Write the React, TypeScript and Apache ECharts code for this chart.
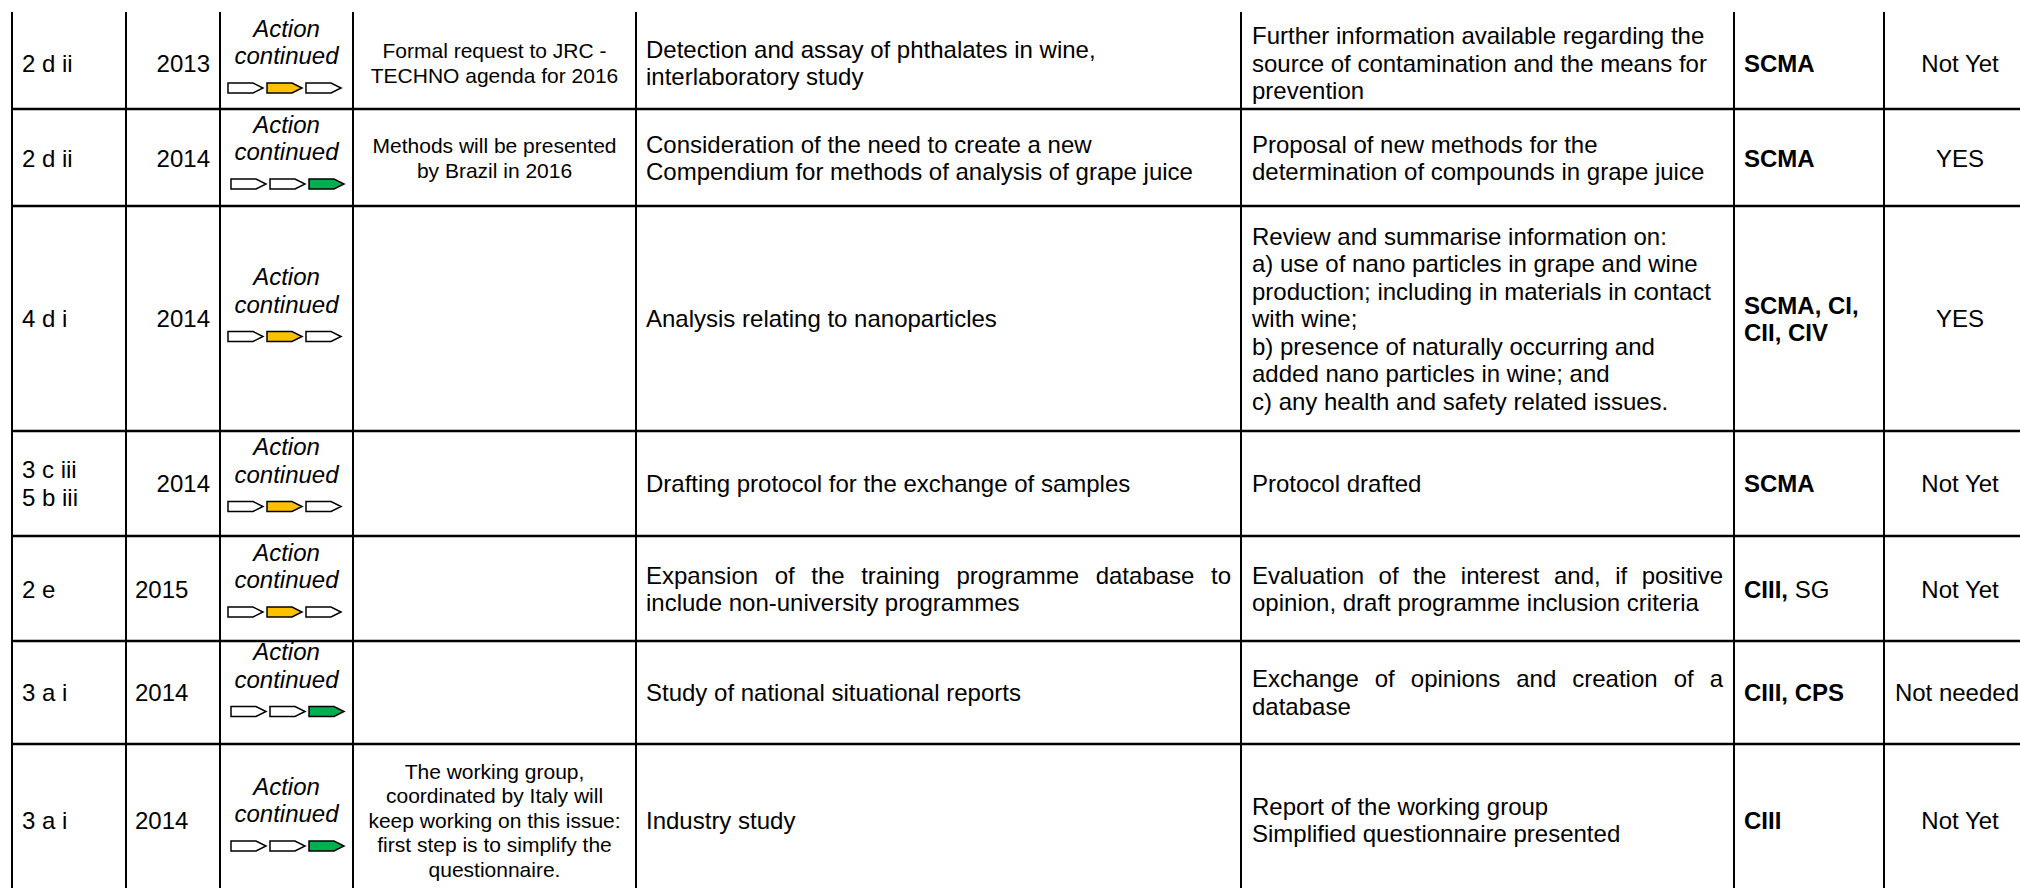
import React, { useEffect, useRef } from "react";
import * as echarts from "echarts";

// ---------- table content ----------
const codes: string[][] = [["2 d ii"], ["2 d ii"], ["4 d i"], ["3 c iii", "5 b iii"], ["2 e"], ["3 a i"], ["3 a i"]];
const years: string[] = ["2013", "2014", "2014", "2014", "2015", "2014", "2014"];
const yearAlignRight: boolean[] = [true, true, true, true, false, false, false];
const statusLines: string[] = ["Action", "continued"];
// index of the coloured step arrow (1 = middle / in progress, 2 = last / done)
const progressStep: number[] = [1, 2, 1, 1, 1, 2, 2];
const comments: string[][] = [
  ["Formal request to JRC -", "TECHNO agenda for 2016"],
  ["Methods will be presented", "by Brazil in 2016"],
  [],
  [],
  [],
  [],
  ["The working group,", "coordinated by Italy will", "keep working on this issue:", "first step is to simplify the", "questionnaire."],
];
const actions: string[][] = [
  ["Detection and assay of phthalates in wine,", "interlaboratory study"],
  ["Consideration of the need to create a new", "Compendium for methods of analysis of grape juice"],
  ["Analysis relating to nanoparticles"],
  ["Drafting protocol for the exchange of samples"],
  ["Expansion of the training programme database to", "include non-university programmes"],
  ["Study of national situational reports"],
  ["Industry study"],
];
const actionsJustified: boolean[] = [false, false, false, false, true, false, false];
const outcomes: string[][] = [
  ["Further information available regarding the", "source of contamination and the means for", "prevention"],
  ["Proposal of new methods for the", "determination of compounds in grape juice"],
  [
    "Review and summarise information on:",
    "a) use of nano particles in grape and wine",
    "production; including in materials in contact",
    "with wine;",
    "b) presence of naturally occurring and",
    "added nano particles in wine; and",
    "c) any health and safety related issues.",
  ],
  ["Protocol drafted"],
  ["Evaluation of the interest and, if positive", "opinion, draft programme inclusion criteria"],
  ["Exchange of opinions and creation of a", "database"],
  ["Report of the working group", "Simplified questionnaire presented"],
];
const outcomesJustified: boolean[] = [false, false, false, false, true, true, false];
// bodies: [bold part, regular part]
const bodies: [string, string][][] = [
  [["SCMA", ""]],
  [["SCMA", ""]],
  [["SCMA, CI,", ""], ["CII, CIV", ""]],
  [["SCMA", ""]],
  [["CIII,", "SG"]],
  [["CIII, CPS", ""]],
  [["CIII", ""]],
];
const adopted: string[] = ["Not Yet", "YES", "YES", "Not Yet", "Not Yet", "Not needed", "Not Yet"];

// ---------- layout ----------
const W = 2020;
const H = 888;
const colX = [12, 126, 220, 353, 636, 1241, 1734, 1884];
const rowLineY = [109, 206, 431, 536, 641, 744];
const tableTop = 12;
const rowCenter = [63, 158, 318.5, 483.5, 589, 692.5, 820];
const statusShift = [1, 2, -6, -1, -1, -5, 2];
const arrowStartX = [228, 231, 228, 228, 228, 231, 231];
const FAMILY = '"Liberation Sans", Arial, Helvetica, sans-serif';
const FS = 24;
const LH = 27.5;
const FS_C = 21;
const LH_C = 24.5;
const STEP_FILL = ["#ffffff", "#FFC000", "#00B050"];
const ADOPTED_CENTER = 1960;

let measureCtx: CanvasRenderingContext2D | null = null;
function measure(text: string, font: string): number {
  if (!measureCtx) measureCtx = document.createElement("canvas").getContext("2d");
  measureCtx!.font = font;
  return measureCtx!.measureText(text).width;
}

function textEl(x: number, y: number, text: string, font: string, align: string = "left") {
  return {
    type: "text",
    x,
    y,
    silent: true,
    style: {
      text,
      font,
      fill: "#000000",
      textAlign: align,
      textVerticalAlign: "middle",
      align,
      verticalAlign: "middle",
    },
  };
}

function buildElements() {
  const els: any[] = [];
  const fNorm = `${FS}px ${FAMILY}`;
  const fItal = `italic ${FS}px ${FAMILY}`;
  const fBold = `bold ${FS}px ${FAMILY}`;
  const fSmall = `${FS_C}px ${FAMILY}`;

  // grid lines
  colX.forEach((x) => {
    els.push({ type: "line", silent: true, shape: { x1: x, y1: tableTop, x2: x, y2: H }, style: { stroke: "#000", lineWidth: 2 } });
  });
  rowLineY.forEach((y) => {
    els.push({ type: "line", silent: true, shape: { x1: colX[0] - 1, y1: y, x2: W, y2: y }, style: { stroke: "#000", lineWidth: 2.5 } });
  });

  const lines = (arr: string[], c: number, lh: number) => arr.map((_, i) => c + (i - (arr.length - 1) / 2) * lh);

  const justified = (line: string, x0: number, x1: number, y: number, font: string) => {
    const words = line.split(" ");
    const widths = words.map((w) => measure(w, font));
    const total = widths.reduce((a, b) => a + b, 0);
    const gap = words.length > 1 ? (x1 - x0 - total) / (words.length - 1) : 0;
    let x = x0;
    words.forEach((w, i) => {
      els.push(textEl(x, y, w, font));
      x += widths[i] + gap;
    });
  };

  rowCenter.forEach((c, r) => {
    // code
    lines(codes[r], c, LH).forEach((y, i) => els.push(textEl(colX[0] + 10, y, codes[r][i], fNorm)));
    // year
    if (yearAlignRight[r]) els.push(textEl(colX[2] - 10, c, years[r], fNorm, "right"));
    else els.push(textEl(colX[1] + 9, c, years[r], fNorm));
    // status block
    const mid = (colX[2] + colX[3]) / 2;
    const s = statusShift[r];
    els.push(textEl(mid, c - 36 + s, statusLines[0], fItal, "center"));
    els.push(textEl(mid, c - 8.5 + s, statusLines[1], fItal, "center"));
    const ay = c + 24 + s;
    for (let k = 0; k < 3; k++) {
      const x0 = arrowStartX[r] + k * 39;
      els.push({
        type: "polygon",
        silent: true,
        shape: { points: [[x0, ay - 5], [x0 + 25, ay - 5], [x0 + 35, ay], [x0 + 25, ay + 5], [x0, ay + 5]] },
        style: { fill: k === progressStep[r] ? STEP_FILL[progressStep[r]] : "#ffffff", stroke: "#000", lineWidth: 1.5 },
      });
    }
    // comment
    const cmid = (colX[3] + colX[4]) / 2;
    lines(comments[r], c, LH_C).forEach((y, i) => els.push(textEl(cmid, y, comments[r][i], fSmall, "center")));
    // action description
    lines(actions[r], c, LH).forEach((y, i) => {
      const isLast = i === actions[r].length - 1;
      if (actionsJustified[r] && !isLast) justified(actions[r][i], colX[4] + 10, colX[5] - 10, y, fNorm);
      else els.push(textEl(colX[4] + 10, y, actions[r][i], fNorm));
    });
    // expected outcome
    lines(outcomes[r], c, LH).forEach((y, i) => {
      const isLast = i === outcomes[r].length - 1;
      if (outcomesJustified[r] && !isLast) justified(outcomes[r][i], colX[5] + 11, colX[6] - 11, y, fNorm);
      else els.push(textEl(colX[5] + 11, y, outcomes[r][i], fNorm));
    });
    // bodies
    const b = bodies[r];
    lines(b.map((p) => p[0]), c, LH - 0.5).forEach((y, i) => {
      const [bold, reg] = b[i];
      const x0 = colX[6] + 10;
      els.push(textEl(x0, y, bold, fBold));
      if (reg) els.push(textEl(x0 + measure(bold, fBold) + measure(" ", fNorm), y, reg, fNorm));
    });
    // adopted (kept inside the visible area when wider than the space left)
    const aw = measure(adopted[r], fNorm);
    if (ADOPTED_CENTER + aw / 2 > W - 1) els.push(textEl(W - 1, c, adopted[r], fNorm, "right"));
    else els.push(textEl(ADOPTED_CENTER, c, adopted[r], fNorm, "center"));
  });
  return els;
}

export default function App() {
  const ref = useRef<HTMLDivElement>(null);
  useEffect(() => {
    document.body.style.margin = "0";
    if (!ref.current) return;
    const chart = echarts.init(ref.current, undefined, { renderer: "svg", width: W, height: H });
    chart.setOption({
      animation: false,
      backgroundColor: "#ffffff",
      graphic: { elements: buildElements() },
    });
    return () => chart.dispose();
  }, []);
  return <div ref={ref} style={{ position: "absolute", left: 0, top: 0, width: W, height: H, background: "#fff" }} />;
}
